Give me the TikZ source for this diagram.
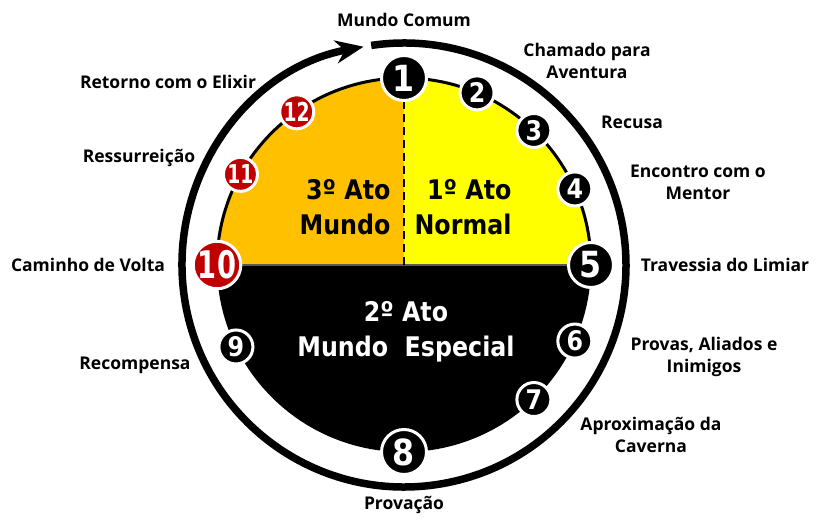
\documentclass[tikz,border=0pt]{standalone}
\usepackage{fontspec}
\setmainfont{Open Sans}
\newfontfamily\stagefont[FakeStretch=0.88]{DejaVu Sans}
\newfontfamily\narrowfont[FakeStretch=0.72]{DejaVu Sans}
\usetikzlibrary{arrows.meta}

\definecolor{actorange}{HTML}{FFC000}
\definecolor{actyellow}{HTML}{FFFF00}
\definecolor{stagered}{HTML}{C00000}

\tikzset{
  stage/.style={circle, fill=black, draw=white, line width=3pt, text=white,
    minimum size=34pt, inner sep=0pt,
    font=\stagefont\bfseries\fontsize{27}{27}\selectfont},
  bigstage/.style={stage, minimum size=45pt,
    font=\stagefont\bfseries\fontsize{36}{36}\selectfont},
  redstage/.style={fill=stagered, font=\narrowfont\bfseries\fontsize{26}{26}\selectfont},
  bigredstage/.style={bigstage, fill=stagered, font=\narrowfont\bfseries\fontsize{38}{38}\selectfont},
  steplabel/.style={font=\bfseries\fontsize{17.5}{22}\selectfont, align=center},
  acttext/.style={font=\stagefont\bfseries\fontsize{27}{35}\selectfont}
}

\begin{document}
\begin{tikzpicture}[x=1pt,y=1pt]
    \useasboundingbox (-404,-262) rectangle (418,265);

    % Acts
    \fill[actyellow] (0,0) -- (0:187) arc (0:90:187) -- cycle;
    \fill[actorange] (0,0) -- (90:187) arc (90:180:187) -- cycle;
    \fill[black] (0,0) -- (180:187) arc (180:360:187) -- cycle;
    \draw[line width=3pt] (0:187) arc (0:180:187);
    \draw[black!65, line width=2pt] (180:187) -- (0:187);
    \coordinate (mid) at (0,0);

    \node[acttext, align=right, anchor=east] (act3) at (-10,58) {3º Ato\\Mundo};
    \node[acttext, align=right, anchor=east] (act1) at (111,58) {1º Ato\\Normal};
    \node[acttext, align=center, text=white] (act2) at (2,-67) {2º Ato\\Mundo\ \ Especial};

    % Journey ring
    \draw[line width=7.5pt, -{Stealth[length=28pt,width=23pt,inset=9pt]}]
        (98.5:222) arc (98.5:-259.5:222);

    % Stages
    \node[bigstage] (s1) at (90:187) {1};
    \node[stage] (s2) at (67:187) {2};
    \node[stage] (s3) at (46:187) {3};
    \node[stage] (s4) at (24:187) {4};
    \node[bigstage] (s5) at (0:187) {5};
    \node[stage] (s6) at (-24:187) {6};
    \node[stage] (s7) at (-46:187) {7};
    \node[bigstage] (s8) at (-90:187) {8};
    \node[stage] (s9) at (206:187) {9};
    \node[bigredstage] (s10) at (180:187) {10};
    \node[stage, redstage] (s11) at (151:187) {11};
    \node[stage, redstage] (s12) at (125:187) {12};

    \draw[dashed, dash pattern=on 8pt off 5pt, line width=2.5pt] (mid) -- (s1);

    % Labels
    \node[steplabel] (l1) at (0,245) {Mundo Comum};
    \node[steplabel] (l2) at (183,204) {Chamado para\\Aventura};
    \node[steplabel] (l3) at (228,143) {Recusa};
    \node[steplabel] (l4) at (294,83) {Encontro com o\\Mentor};
    \node[steplabel] (l5) at (321,0) {Travessia do Limiar};
    \node[steplabel] (l6) at (300,-92) {Provas, Aliados e\\Inimigos};
    \node[steplabel] (l7) at (247,-170) {Aproximação da\\Caverna};
    \node[steplabel] (l8) at (0,-240) {Provação};
    \node[steplabel] (l9) at (-269,-100) {Recompensa};
    \node[steplabel] (l10) at (-316,0) {Caminho de Volta};
    \node[steplabel] (l11) at (-265,107) {Ressurreição};
    \node[steplabel] (l12) at (-236,183) {Retorno com o Elixir};
\end{tikzpicture}
\end{document}
